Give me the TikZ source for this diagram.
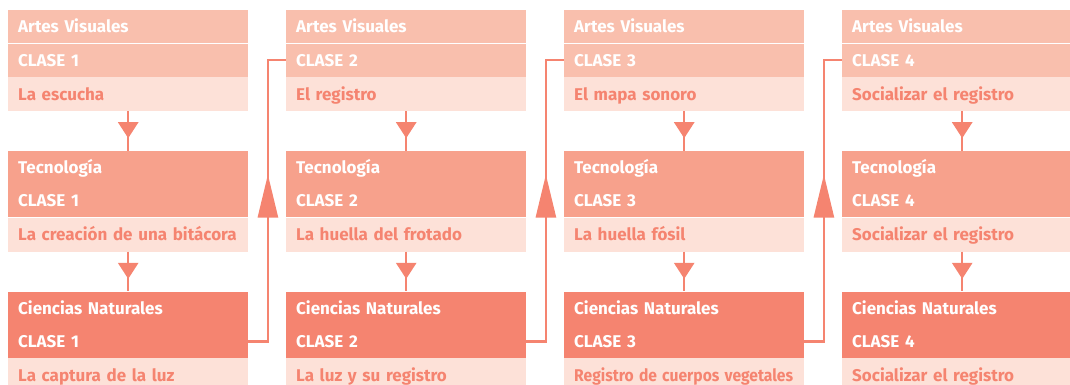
\documentclass[tikz,border=0pt]{standalone}
\usepackage{fontspec}
\setmainfont{Fira Sans}
\usetikzlibrary{arrows.meta, positioning, calc}

\definecolor{artes}{HTML}{F9BFAD}
\definecolor{tecno}{HTML}{F7A18C}
\definecolor{ciencias}{HTML}{F58470}
\definecolor{fondo}{HTML}{FDE1D8}

\begin{document}
\begin{tikzpicture}[x=1pt, y=-1pt,
    caja/.style={minimum width=240pt, minimum height=33pt, inner xsep=10pt, inner ysep=0pt,
      text width=220pt, align=left, text height=14pt, text depth=2pt,
      font=\bfseries\fontsize{17}{20}\selectfont, text=white},
    sub/.style={caja, minimum height=34pt, fill=fondo, text=ciencias},
    linea/.style={draw=ciencias, line width=2.5pt}]
  % marco de la figura
  \clip (0,0) rectangle (1070,384);
  \foreach \i/\avs/\tes/\cns in {1/La escucha/La creación de una bitácora/La captura de la luz,
      2/El registro/La huella del frotado/La luz y su registro,
      3/El mapa sonoro/La huella fósil/\scalebox{0.92}[1]{Registro de cuerpos vegetales},
      4/Socializar el registro/Socializar el registro/Socializar el registro} {
    % Artes Visuales
    \node[caja, fill=artes, anchor=north west] (av\i) at ({8+(\i-1)*278}, 10) {Artes Visuales};
    \node[caja, fill=artes, below=0pt of av\i] (avc\i) {CLASE \i};
    \node[sub, below=0pt of avc\i] (avs\i) {\avs};
    % Tecnología
    \node[caja, fill=tecno, below=39.5pt of avs\i] (te\i) {Tecnología};
    \node[caja, fill=tecno, below=0pt of te\i] (tec\i) {CLASE \i};
    \node[sub, below=0pt of tec\i] (tes\i) {\tes};
    % Ciencias Naturales
    \node[caja, fill=ciencias, below=39.5pt of tes\i] (cn\i) {Ciencias Naturales};
    \node[caja, fill=ciencias, below=0pt of cn\i] (cnc\i) {CLASE \i};
    \node[sub, below=0pt of cnc\i] (cns\i) {\cns};
    % flechas hacia abajo
    \draw[linea] (avs\i.south) -- (te\i.north);
    \draw[linea, -{Triangle[width=20pt, length=16pt]}] (avs\i.south) -- ++(0,27);
    \draw[linea] (tes\i.south) -- (cn\i.north);
    \draw[linea, -{Triangle[width=20pt, length=16pt]}] (tes\i.south) -- ++(0,27);
  }
  % de una clase a la siguiente
  \foreach \i/\j in {1/2, 2/3, 3/4} {
    \draw[linea] (cnc\i.east) -- ++(19.5,0) |- (avc\j.west);
    \draw[linea, -{Triangle[width=20pt, length=43pt]}] (cnc\i.east) -- ++(19.5,0) -- ++(0,-167);
  }
\end{tikzpicture}
\end{document}
